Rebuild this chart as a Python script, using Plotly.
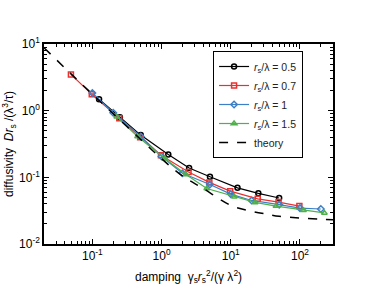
import plotly.graph_objects as go

# data
x_05 = [0.125, 0.25, 0.5, 1.25, 2.5, 5, 12.5, 25, 50]
y_05 = [1.48, 0.80, 0.43, 0.22, 0.138, 0.102, 0.0695, 0.0575, 0.049]

x_07 = [0.049, 0.098, 0.245, 0.49, 0.98, 2.45, 4.9, 9.8, 24.5, 49, 98]
y_07 = [3.5, 1.76, 0.77, 0.40, 0.215, 0.12, 0.084, 0.062, 0.0476, 0.0425, 0.037]

x_10 = [0.1, 0.2, 0.5, 1, 2, 5, 10, 20, 50, 100, 200]
y_10 = [1.84, 0.93, 0.41, 0.205, 0.115, 0.078, 0.056, 0.045, 0.039, 0.0345, 0.0335]

x_15 = [0.225, 0.45, 1.125, 2.25, 4.5, 11.25, 22.5, 45, 112.5, 225]
y_15 = [0.81, 0.41, 0.19, 0.11, 0.068, 0.051, 0.042, 0.037, 0.032, 0.0293]

x_th = [0.02, 0.05, 0.1, 0.2, 0.5, 1, 2, 4, 10, 20, 33, 50, 100, 200, 300]
y_th = [8.8, 3.5, 1.77, 0.9, 0.37, 0.19, 0.105, 0.068, 0.038, 0.031, 0.028, 0.026, 0.0245, 0.0235, 0.0232]

x_tickvals = [0.1, 1, 10, 100]
x_ticktext = ["10<sup>-1</sup>", "10<sup>0</sup>", "10<sup>1</sup>", "10<sup>2</sup>"]
y_tickvals = [0.01, 0.1, 1, 10]
y_ticktext = ["10<sup>-2</sup>", "10<sup>-1</sup>", "10<sup>0</sup>", "10<sup>1</sup>"]

labels = ["<i>r</i><sub>s</sub>/λ = 0.5", "<i>r</i><sub>s</sub>/λ = 0.7",
          "<i>r</i><sub>s</sub>/λ = 1", "<i>r</i><sub>s</sub>/λ = 1.5", "theory"]

FONT = "Liberation Sans, Arial, sans-serif"

fig = go.Figure()
series = [
    (x_05, y_05, "#000000", "circle-open"),
    (x_07, y_07, "#e8312f", "square-open"),
    (x_10, y_10, "#3d7fc6", "diamond-open"),
    (x_15, y_15, "#4fb04c", "triangle-up-open"),
]
for (xs, ys, c, sym), lab in zip(series, labels):
    fig.add_trace(go.Scatter(
        x=xs, y=ys, mode="lines+markers", name=lab,
        line=dict(color=c, width=1.2),
        marker=dict(symbol=sym, size=5, color=c, line=dict(color=c, width=1.5)),
    ))
fig.add_trace(go.Scatter(
    x=x_th, y=y_th, mode="lines", name=labels[4],
    line=dict(color="black", width=1.5, dash="dash", shape="spline"),
))

axis_common = dict(
    type="log", showgrid=False, zeroline=False, showline=True, linecolor="black",
    linewidth=1.5, mirror="allticks", ticks="inside", ticklen=5, tickcolor="black",
    minor=dict(ticks="inside", ticklen=3, tickcolor="black", dtick="D1"),
    tickfont=dict(family=FONT, size=12, color="black"),
    automargin=False,
)

fig.update_layout(
    width=374, height=289,
    margin=dict(l=44, r=41, t=44, b=45),
    paper_bgcolor="white", plot_bgcolor="white",
    font=dict(family=FONT, size=12, color="black"),
    showlegend=True,
    legend=dict(
        x=0.585, y=0.965, xanchor="left", yanchor="top",
        bordercolor="black", borderwidth=1, bgcolor="white",
        font=dict(family=FONT, size=10.5, color="#222"),
        tracegroupgap=0, itemwidth=30,
    ),
    xaxis=dict(axis_common, range=[-1.699, 2.477],
               tickvals=x_tickvals, ticktext=x_ticktext,
               title=dict(text="damping  γ<sub>s</sub><i>r</i><sub>s</sub><sup>2</sup>/(γ λ<sup>2</sup>)",
                          font=dict(family=FONT, size=12), standoff=10)),
    yaxis=dict(axis_common, range=[-2, 1],
               tickvals=y_tickvals, ticktext=y_ticktext,
               title=dict(text="diffusivity  <i>Dr</i><sub>s</sub> /(λ<sup>3</sup>/τ)",
                          font=dict(family=FONT, size=12), standoff=4)),
)

fig.write_html("out.html", config={"displayModeBar": False},
               post_script="document.body.style.margin='0';")
